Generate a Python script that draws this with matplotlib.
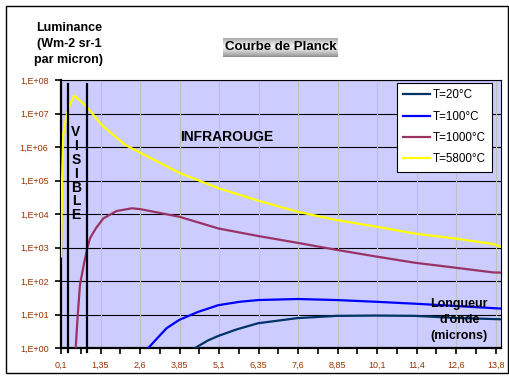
"""Courbe de Planck - luminance of black bodies, Excel-style chart."""
import numpy as np
import matplotlib
matplotlib.use('Agg')
import matplotlib.pyplot as plt
from matplotlib.patches import Rectangle

plt.rcParams['font.family'] = ['Liberation Sans', 'DejaVu Sans']

# wavelength (microns) / luminance (W m-2 sr-1 per micron)
x_5800 = [0.10, 0.14, 0.17, 0.28, 0.38, 0.52, 0.91, 1.39, 2.13, 2.60, 3.84, 5.08,
          6.34, 7.58, 8.82, 10.06, 11.30, 12.57, 13.78, 14.02]
y_5800 = [5.4e2, 1.8e5, 2.3e6, 9.0e6, 1.8e7, 3.4e7, 1.6e7, 4.5e6, 1.15e6, 6.8e5, 1.7e5, 5.9e4,
          2.5e4, 1.17e4, 6.6e3, 4.2e3, 2.6e3, 1.86e3, 1.26e3, 1.05e3]
x_1000 = [0.55, 0.63, 0.70, 0.84, 0.93, 1.02, 1.20, 1.44, 1.86, 2.34, 2.60, 3.84, 5.08,
          6.34, 7.58, 8.82, 10.06, 11.30, 12.57, 13.78, 14.02]
y_1000 = [0.6, 9.8, 76, 3.8e2, 9.5e2, 1.9e3, 3.7e3, 7.4e3, 1.23e4, 1.48e4, 1.4e4, 8.3e3, 3.7e3,
          2.2e3, 1.38e3, 8.5e2, 5.4e2, 3.5e2, 2.5e2, 1.8e2, 1.78e2]
x_100 = [2.80, 2.86, 3.44, 3.84, 4.44, 5.08, 5.76, 6.34, 7.58, 8.82, 10.06, 11.30, 12.57, 14.02]
y_100 = [0.6, 1.0, 3.9, 6.9, 12, 19, 24, 27, 29, 27, 24, 21, 18, 15]
x_20 = [4.30, 4.34, 4.76, 5.08, 5.66, 6.34, 7.58, 8.82, 10.06, 11.30, 12.57, 14.02]
y_20 = [0.9, 1.0, 1.7, 2.3, 3.6, 5.5, 7.8, 9.1, 9.3, 9.1, 7.9, 7.2]

xtick_labels = ['0,1', '1,35', '2,6', '3,85', '5,1', '6,35', '7,6', '8,85', '10,1', '11,4', '12,6', '13,8']
ytick_labels = ['1,E+00', '1,E+01', '1,E+02', '1,E+03', '1,E+04', '1,E+05', '1,E+06', '1,E+07', '1,E+08']
visible_bounds = [0.31, 0.92]

W, H = 510, 379
fig = plt.figure(figsize=(W / 100, H / 100), dpi=100)
fig.patch.set_facecolor('white')
fig.add_artist(Rectangle((6 / W, 1 - 373 / H), 502 / W, 367 / H, transform=fig.transFigure,
                         fill=False, ec='black', lw=1))

ax = fig.add_axes([61 / W, 1 - 348 / H, 440 / W, 268 / H])
ax.set_facecolor('#CCCCFF')
ax.set_yscale('log')
ax.set_xlim(0.1, 14.02)
ax.set_ylim(1, 1e8)

lab_color = '#993300'
ax.set_yticks([10.0 ** k for k in range(9)])
ax.set_yticklabels(ytick_labels, fontsize=6.5, color=lab_color)
ax.yaxis.set_minor_locator(matplotlib.ticker.NullLocator())
major_x = [0.1 + 0.625 * k for k in range(23)]
ax.set_xticks(major_x)
ax.set_xticklabels([xtick_labels[k // 2] if k % 2 == 0 else '' for k in range(23)],
                   fontsize=6.5, color=lab_color)
ax.tick_params(axis='both', direction='out', length=4, width=1.2, color='black', pad=5)

for k in range(9):
    ax.axhline(10.0 ** k, color='black', lw=0.8, zorder=1)
for k in range(1, 12):
    ax.axvline(0.1 + 1.25 * k, color='#C0C0C0', lw=0.8, zorder=1)

for s in ['left', 'bottom']:
    ax.spines[s].set_linewidth(1.6)
for s in ['top', 'right']:
    ax.spines[s].set_linewidth(0.8)

ax.plot(x_20, y_20, color='#003366', lw=1.6, label='T=20°C', zorder=3)
ax.plot(x_100, y_100, color='#0000FF', lw=1.6, label='T=100°C', zorder=3)
ax.plot(x_1000, y_1000, color='#993366', lw=1.6, label='T=1000°C', zorder=3)
ax.plot(x_5800, y_5800, color='#FFFF00', lw=1.6, label='T=5800°C', zorder=3)

for xv in visible_bounds:
    ax.axvline(xv, ymin=-0.015, ymax=0.985, color='black', lw=1.6, clip_on=False, zorder=4)

for i, ch in enumerate('VISIBLE'):
    ax.text(0.575, 10 ** (6.45 - i * 0.415), ch, fontsize=10, fontweight='bold',
            ha='center', va='center', zorder=5)

ax.text(5.35, 10 ** 6.3, 'INFRAROUGE', fontsize=10, fontweight='bold', ha='center', va='center')
ax.text(12.7, 10 ** 0.84, "Longueur\nd'onde\n(microns)", fontsize=9, fontweight='bold',
        ha='center', va='center', linespacing=1.45, zorder=6)

leg = ax.legend(loc='upper left', bbox_to_anchor=(397 / W, 1 - 83 / H), bbox_transform=fig.transFigure,
                fontsize=8.4, frameon=True, fancybox=False, edgecolor='black', framealpha=1,
                handlelength=2.3, handletextpad=0.2, labelspacing=0.8, borderpad=0.55,
                borderaxespad=0)
leg.get_frame().set_linewidth(0.8)
leg.set_zorder(10)

fig.text(69 / W, 1 - 44 / H, 'Luminance\n(Wm-2 sr-1\npar micron)', fontsize=9, fontweight='bold',
         ha='center', va='center', linespacing=1.45)

# title box with a grey cylinder gradient
tax = fig.add_axes([223 / W, 1 - 57 / H, 115 / W, 19 / H])
t = np.linspace(0, 1, 40)
shade = 0.55 + 0.42 * (1 - np.abs(t - 0.45) / 0.55) ** 0.8
tax.imshow(shade[:, None], cmap='gray', vmin=0, vmax=1, aspect='auto', extent=(0, 1, 0, 1))
tax.set_axis_off()
tax.text(0.5, 0.5, 'Courbe de Planck', fontsize=9.5, fontweight='bold', ha='center', va='center',
         transform=tax.transAxes)

fig.savefig('out.png', dpi=100)
